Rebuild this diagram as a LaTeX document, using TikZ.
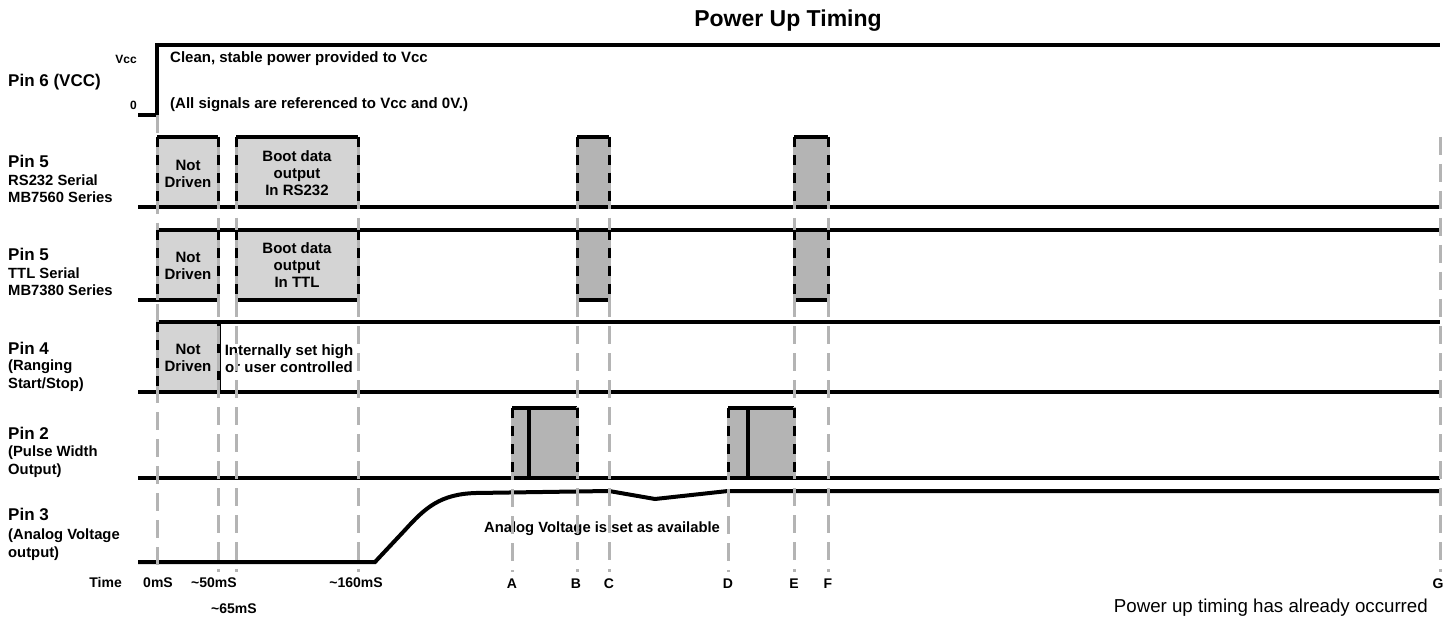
\documentclass[tikz,border=0pt]{standalone}
\usepackage{fontspec}
\setmainfont{Liberation Sans}
\usetikzlibrary{positioning}
\definecolor{guideColor}{RGB}{180,180,180}
\definecolor{idleColor}{RGB}{212,212,212}
\definecolor{dataColor}{RGB}{180,180,180}
\tikzset{signal/.style={draw=black, line width=4pt, line join=miter}}
\tikzset{guide/.style={draw=guideColor, line width=3pt, dash pattern=on 18pt off 9pt}}
\tikzset{sideunder/.style={draw=guideColor, line width=3pt}}
\tikzset{side/.style={draw=black, line width=3pt, dash pattern=on 10pt off 8pt}}
\tikzset{pinname/.style={anchor=base west, inner sep=0pt, font=\bfseries\fontsize{17}{19}\selectfont}}
\tikzset{pininfo/.style={pinname, align=left, font=\bfseries\fontsize{14.8}{17.5}\selectfont}}
\tikzset{boxtext/.style={inner sep=0pt, align=center, font=\bfseries\fontsize{15}{17}\selectfont}}
\tikzset{timelabel/.style={anchor=base, inner sep=0pt, font=\bfseries\fontsize{14}{16}\selectfont}}

\begin{document}
\begin{tikzpicture}[x=1pt, y=-1pt]
\fill[white] (0,0) rectangle (1455,617);
\useasboundingbox (0,0) rectangle (1455,617);

% Labels
    \node (Title) [anchor=base, inner sep=0pt, font=\bfseries\fontsize{23}{25}\selectfont] at (788,27) {Power Up Timing};

    \node (PinSix) [pinname] at (8,87) {Pin 6 (VCC)};
    \node (VccLevel) [anchor=base east, inner sep=0pt, font=\bfseries\fontsize{12}{13}\selectfont] at (137,64) {Vcc};
    \node (ZeroLevel) [anchor=base east, inner sep=0pt, font=\bfseries\fontsize{12}{13}\selectfont] at (137,110) {0};
    \node (VccNote) [anchor=base west, inner sep=0pt, font=\bfseries\fontsize{15}{17}\selectfont] at (170,63) {Clean, stable power provided to Vcc};
    \node (RefNote) [anchor=base west, inner sep=0pt, font=\bfseries\fontsize{15}{17}\selectfont] at (170,109) {(All signals are referenced to Vcc and 0V.)};

    \node (PinFiveRS) [pinname] at (8,168) {Pin 5};
    \node (PinFiveRSInfo) [pininfo] at (8,203) {RS232 Serial\\MB7560 Series};

    \node (PinFiveTTL) [pinname] at (8,261) {Pin 5};
    \node (PinFiveTTLInfo) [pininfo] at (8,296) {TTL Serial\\MB7380 Series};

    \node (PinFour) [pinname] at (8,354) {Pin 4};
    \node (PinFourInfo) [pininfo] at (8,388) {(Ranging\\Start/Stop)};

    \node (PinTwo) [pinname] at (8,439) {Pin 2};
    \node (PinTwoInfo) [pininfo] at (8,474) {(Pulse Width\\Output)};

    \node (PinThree) [pinname] at (8,520) {Pin 3};
    \node (PinThreeInfo) [pininfo] at (8,557) {(Analog Voltage\\output)};

% Boxes
    \fill[idleColor] (157,137) rectangle (218,207);
    \fill[idleColor] (236,137) rectangle (358,207);
    \fill[dataColor] (577,137) rectangle (609,207);
    \fill[dataColor] (794,137) rectangle (828,207);

    \fill[idleColor] (157,230) rectangle (218,300);
    \fill[idleColor] (236,230) rectangle (358,300);
    \fill[dataColor] (577,230) rectangle (609,300);
    \fill[dataColor] (794,230) rectangle (828,300);

    \fill[idleColor] (157,322) rectangle (218,392);

    \fill[dataColor] (512,408) rectangle (577,478);
    \fill[dataColor] (728,408) rectangle (794,478);

    \node (NotDrivenRS) [boxtext] at (188,174) {Not\\Driven};
    \node (BootRS) [boxtext] at (297,173) {Boot data\\output\\In RS232};
    \node (NotDrivenTTL) [boxtext] at (188,266) {Not\\Driven};
    \node (BootTTL) [boxtext] at (297,265) {Boot data\\output\\In TTL};
    \node (NotDrivenFour) [boxtext] at (188,358) {Not\\Driven};
    \node (InternalFour) [boxtext] at (289,359) {Internally set high\\or user controlled};

% Signals
    \draw[signal] (138,115) -- (157,115) -- (157,45) -- (1440,45);

    \draw[signal] (138,207) -- (1440,207);
    \draw[signal] (157,137) -- (218,137) (236,137) -- (358,137) (577,137) -- (609,137) (794,137) -- (828,137);

    \draw[signal] (138,300) -- (218,300) (236,300) -- (358,300) (577,300) -- (609,300) (794,300) -- (828,300);
    \draw[signal] (157,230) -- (1440,230);

    \draw[signal] (157,322) -- (1440,322);
    \draw[signal] (138,392) -- (1440,392);
    \draw[signal] (219,322) -- (219,392);

    \draw[signal] (138,478) -- (1440,478);
    \draw[signal] (512,408) -- (577,408) (728,408) -- (794,408);
    \draw[signal] (529,408) -- (529,478) (748,408) -- (748,478);

    \draw[signal] (138,562) -- (375,562) -- (405,530) .. controls (425,508) and (440,494) .. (476,493) -- (609,491) -- (655,499) -- (728,491) -- (1440,491);

    \node (AnalogNote) [anchor=base, inner sep=0pt, font=\bfseries\fontsize{14.8}{17}\selectfont] at (602,532) {Analog Voltage is set as available};

% Guides
    \draw[guide] (157,115) -- (157,572);
    \draw[guide] (218,137) -- (218,572);
    \draw[guide] (236,137) -- (236,572);
    \draw[guide] (358,137) -- (358,572);
    \draw[guide] (512,408) -- (512,572);
    \draw[guide] (577,137) -- (577,572);
    \draw[guide] (609,137) -- (609,572);
    \draw[guide] (728,408) -- (728,572);
    \draw[guide] (794,137) -- (794,572);
    \draw[guide] (828,137) -- (828,572);
    \draw[guide] (1440,137) -- (1440,572);

% Box sides
    \draw[sideunder] (157,137) -- (157,207) (218,137) -- (218,207) (236,137) -- (236,207) (358,137) -- (358,207) (577,137) -- (577,207) (609,137) -- (609,207) (794,137) -- (794,207) (828,137) -- (828,207);
    \draw[side] (157,137) -- (157,207) (218,137) -- (218,207) (236,137) -- (236,207) (358,137) -- (358,207) (577,137) -- (577,207) (609,137) -- (609,207) (794,137) -- (794,207) (828,137) -- (828,207);

    \draw[sideunder] (157,230) -- (157,300) (218,230) -- (218,300) (236,230) -- (236,300) (358,230) -- (358,300) (577,230) -- (577,300) (609,230) -- (609,300) (794,230) -- (794,300) (828,230) -- (828,300);
    \draw[side] (157,230) -- (157,300) (218,230) -- (218,300) (236,230) -- (236,300) (358,230) -- (358,300) (577,230) -- (577,300) (609,230) -- (609,300) (794,230) -- (794,300) (828,230) -- (828,300);

    \draw[sideunder] (157,322) -- (157,392);
    \draw[side] (157,322) -- (157,392);

    \draw[sideunder] (512,408) -- (512,478) (577,408) -- (577,478) (728,408) -- (728,478) (794,408) -- (794,478);
    \draw[side] (512,408) -- (512,478) (577,408) -- (577,478) (728,408) -- (728,478) (794,408) -- (794,478);

% Time axis
    \node (TimeLabel) [anchor=base east, inner sep=0pt, font=\bfseries\fontsize{14}{16}\selectfont] at (122,587) {Time};
    \node (TimeZero) [timelabel] at (158,587) {0mS};
    \node (TimeFifty) [timelabel] at (214,587) {\textasciitilde50mS};
    \node (TimeSixtyFive) [timelabel] at (234,613) {\textasciitilde65mS};
    \node (TimeOneSixty) [timelabel] at (356,587) {\textasciitilde160mS};
    \node (TimeA) [timelabel] at (512,588) {A};
    \node (TimeB) [timelabel] at (576,588) {B};
    \node (TimeC) [timelabel] at (609,588) {C};
    \node (TimeD) [timelabel] at (728,588) {D};
    \node (TimeE) [timelabel] at (794,588) {E};
    \node (TimeF) [timelabel] at (828,588) {F};
    \node (TimeG) [timelabel] at (1438,588) {G};

    \node (AlreadyNote) [anchor=base east, inner sep=0pt, font=\fontsize{18.7}{20}\selectfont] at (1428,612) {Power up timing has already occurred};

\end{tikzpicture}
\end{document}
